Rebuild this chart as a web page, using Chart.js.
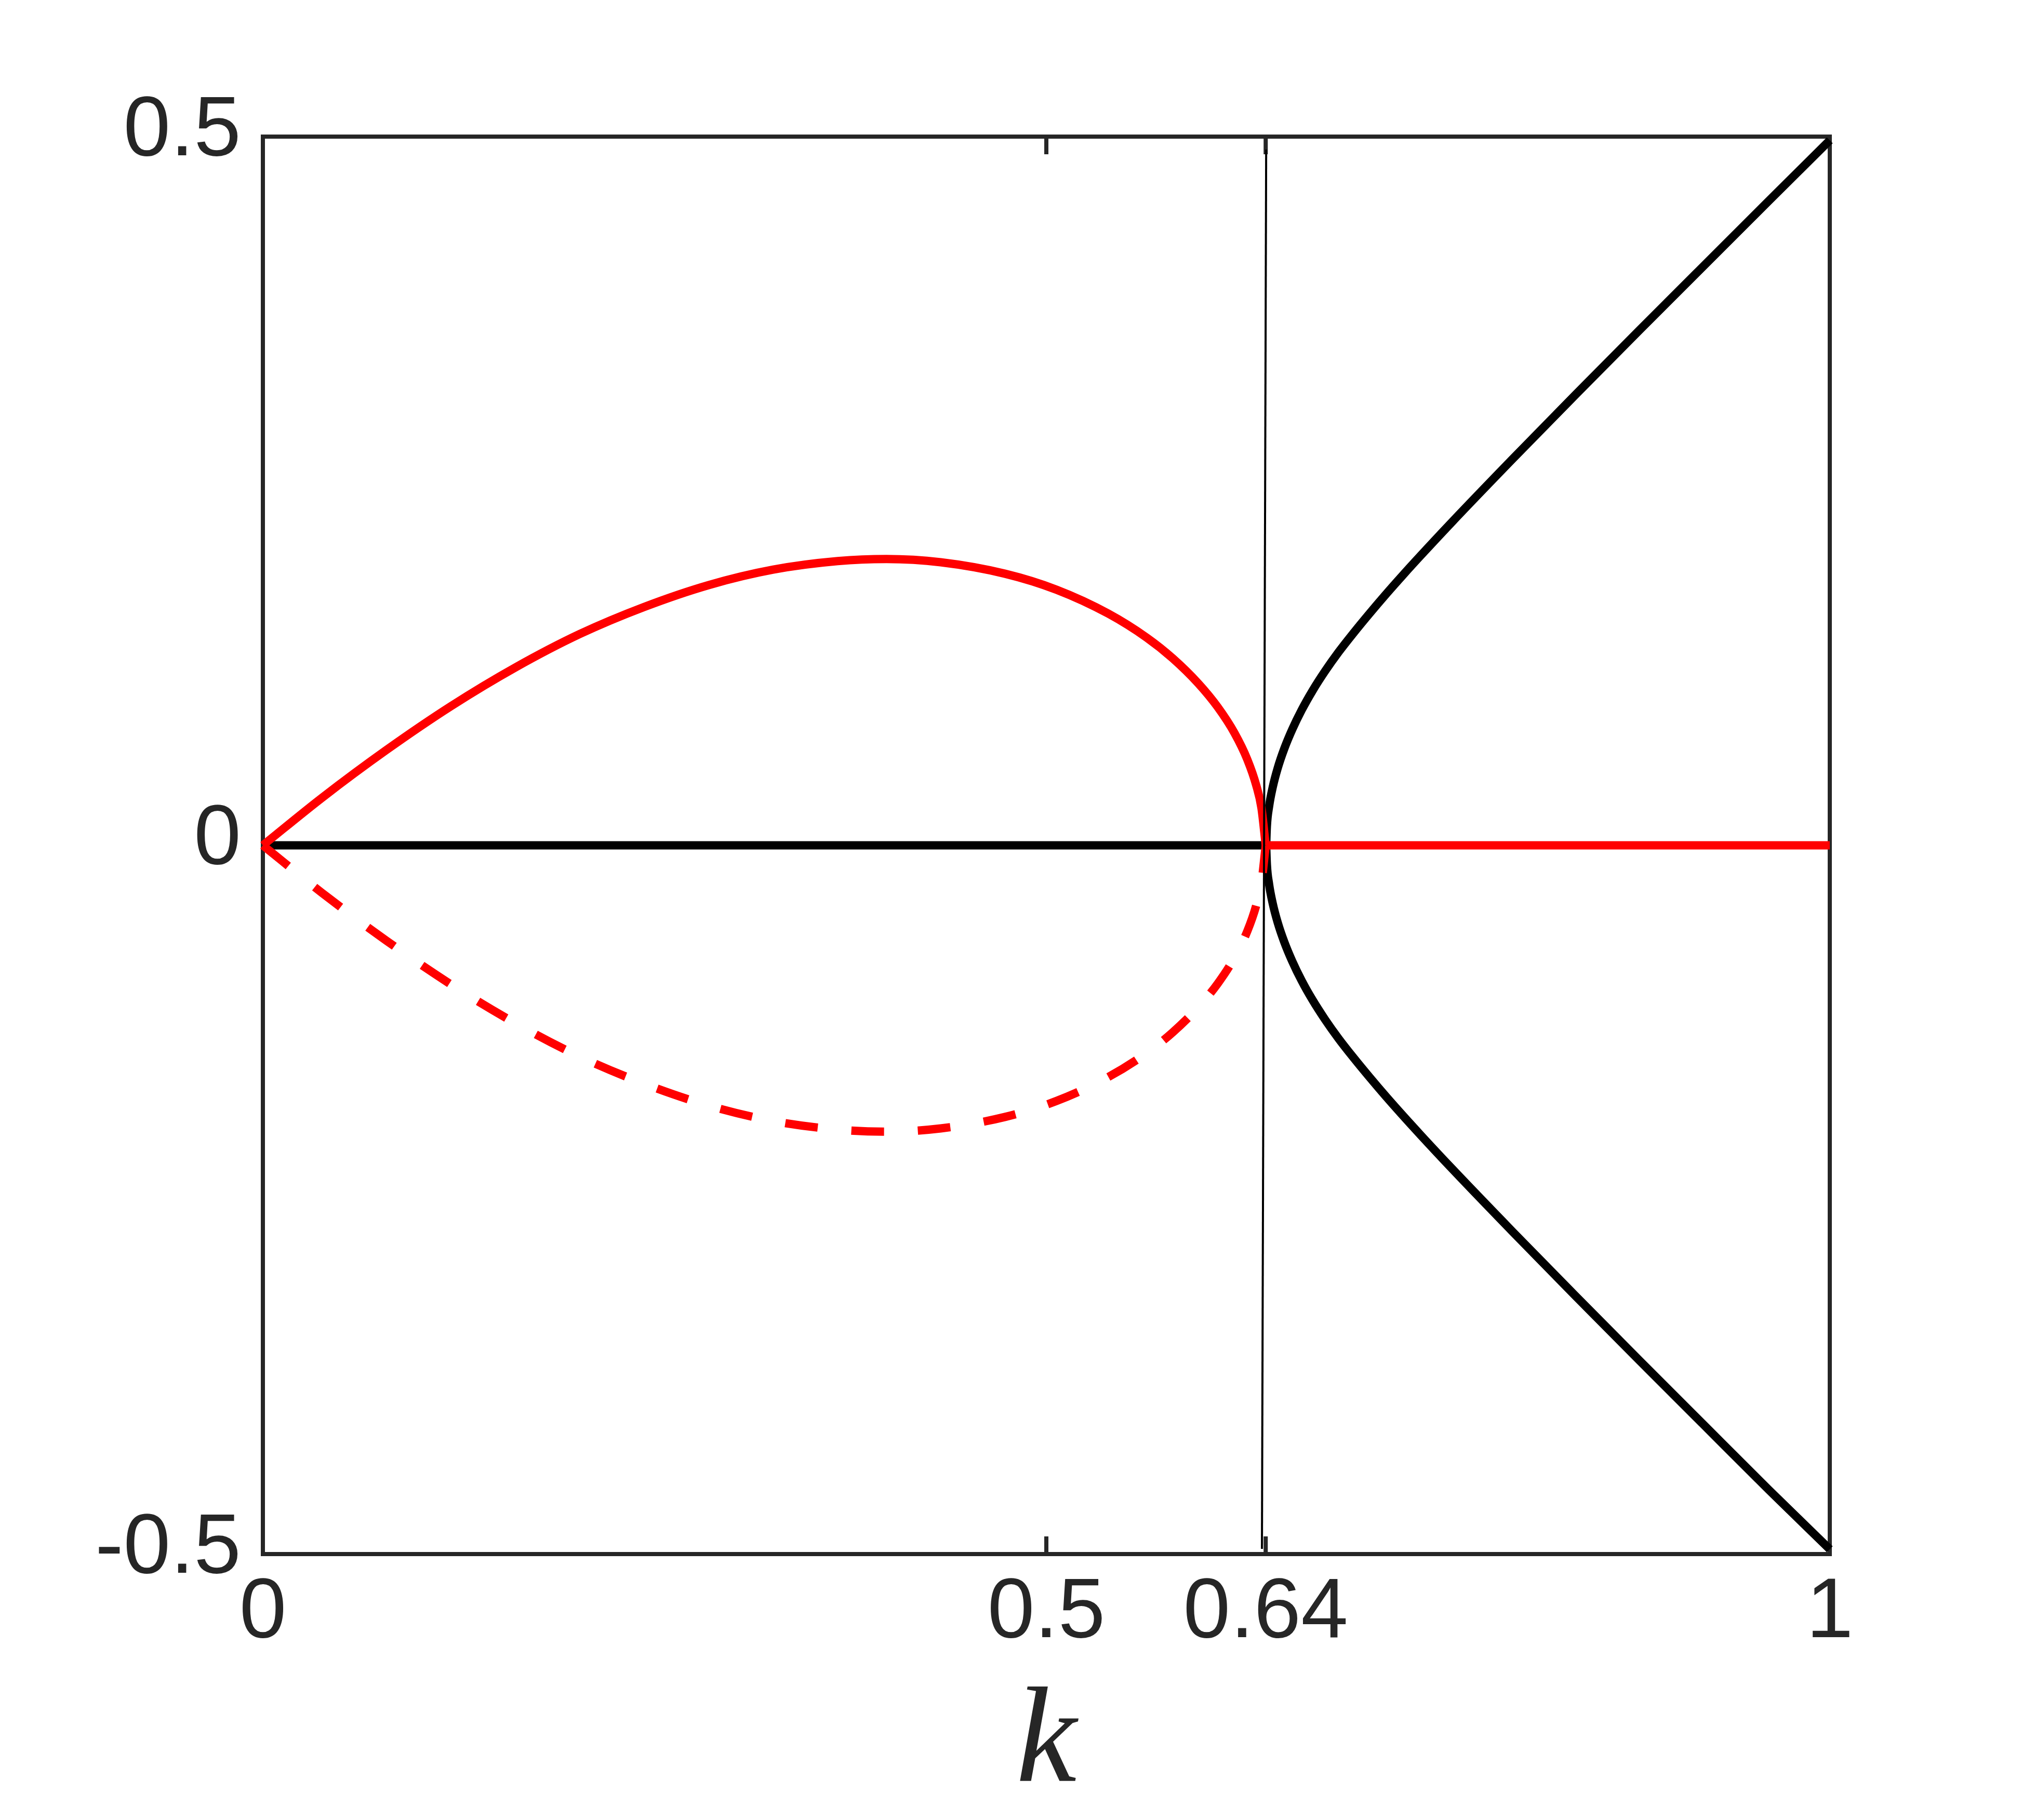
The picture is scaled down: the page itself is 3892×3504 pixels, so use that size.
<!DOCTYPE html>
<html>
<head>
<meta charset="utf-8">
<script src="https://cdn.jsdelivr.net/npm/chart.js@4.4.1/dist/chart.umd.min.js"></script>
<style>
  html, body { margin: 0; padding: 0; background: #ffffff; }
  canvas { display: block; }
</style>
</head>
<body>
<canvas id="bifChart" width="3892" height="3504"></canvas>
<script>
// Tick positions
const xTicks = [0, 0.5, 0.64, 1];
const yTicks = [-0.5, 0, 0.5];

// Trivial branch y = 0 (black on the left, red on the right)
const kTrivialLeft = [0, 0.6403];
const yTrivialLeft = [0, 0];
const kTrivialRight = [0.6403, 1];
const yTrivialRight = [0, 0];

// Red arc (solid upper half, dashed lower half)
const kArc = [0, 0.0378, 0.0789, 0.1201, 0.1612, 0.2023, 0.2434, 0.2845, 0.3257, 0.3668, 0.398,
  0.4326, 0.4737, 0.5066, 0.5395, 0.5641, 0.5806, 0.597, 0.6094, 0.6201, 0.6283, 0.634, 0.6373, 0.64];
const yArcUpper = [0, 0.0336, 0.0673, 0.0982, 0.1255, 0.1491, 0.1682, 0.1836, 0.1945, 0.2005, 0.202,
  0.1997, 0.1916, 0.1803, 0.1635, 0.1465, 0.132, 0.1142, 0.0975, 0.0792, 0.0605, 0.0422, 0.0263, 0];
const yArcLower = [0, -0.0336, -0.0673, -0.0982, -0.1255, -0.1491, -0.1682, -0.1836, -0.1945, -0.2005, -0.202,
  -0.1997, -0.1916, -0.1803, -0.1635, -0.1465, -0.132, -0.1142, -0.0975, -0.0792, -0.0605, -0.0422, -0.0263, 0];

// Black branches for k > 0.64
const kBranch = [0.6403, 0.64076, 0.64215, 0.64446, 0.6477, 0.65186, 0.65695, 0.66297, 0.6699, 0.67777, 0.68656,
  0.69618, 0.70629, 0.71685, 0.72776, 0.73898, 0.75823, 0.7977, 0.83799, 0.87871, 0.91982, 0.96094, 1.0];
const yBranchUpper = [0, 0.0136, 0.0273, 0.0409, 0.0546, 0.0682, 0.0818, 0.0955, 0.1091, 0.1227, 0.1364,
  0.15, 0.1636, 0.1773, 0.1909, 0.2045, 0.2273, 0.2727, 0.3182, 0.3636, 0.4091, 0.4545, 0.4974];
const yBranchLower = [0, -0.0136, -0.0273, -0.0409, -0.0546, -0.0682, -0.0818, -0.0955, -0.1091, -0.1227, -0.1364,
  -0.15, -0.1636, -0.1773, -0.1909, -0.2045, -0.2273, -0.2727, -0.3182, -0.3636, -0.4091, -0.4545, -0.4966];

// Thin marker line at k ~ 0.64
const kMarker = [0.6403, 0.6376];
const yMarker = [0.4908, -0.4963];

const axisColor = '#262626';

function pts(xs, ys) {
    return xs.map((x, i) => ({ x: x, y: ys[i] }));
}

function lineSet(data, color, width, dash, smooth) {
    return {
        data: data,
        showLine: true,
        borderColor: color,
        borderWidth: width,
        borderDash: dash || [],
        borderCapStyle: 'butt',
        borderJoinStyle: 'round',
        pointRadius: 0,
        pointHoverRadius: 0,
        cubicInterpolationMode: smooth ? 'monotone' : 'default',
        tension: 0,
        clip: false
    };
}

// Box round the plot and inward tick marks
const boxPlugin = {
    id: 'box',
    beforeDatasetsDraw(chart) {
        const { ctx, chartArea: a, scales } = chart;
        const len = 34;
        ctx.save();
        ctx.strokeStyle = axisColor;
        ctx.lineWidth = 8;
        ctx.lineCap = 'butt';
        ctx.strokeRect(a.left, a.top, a.right - a.left, a.bottom - a.top);
        ctx.beginPath();
        xTicks.forEach(v => {
            const px = scales.x.getPixelForValue(v);
            ctx.moveTo(px, a.bottom);
            ctx.lineTo(px, a.bottom - len);
            ctx.moveTo(px, a.top);
            ctx.lineTo(px, a.top + len);
        });
        yTicks.forEach(v => {
            const py = scales.y.getPixelForValue(v);
            ctx.moveTo(a.left, py);
            ctx.lineTo(a.left + len, py);
            ctx.moveTo(a.right, py);
            ctx.lineTo(a.right - len, py);
        });
        ctx.stroke();
        ctx.restore();
    }
};

const ctx = document.getElementById('bifChart').getContext('2d');
const bifChart = new Chart(ctx, {
    type: 'scatter',
    data: {
        datasets: [
            lineSet(pts(kMarker, yMarker), '#000000', 4),
            lineSet(pts(kArc, yArcUpper), '#ff0000', 16, null, true),
            lineSet(pts(kArc, yArcLower), '#ff0000', 16, [63, 65], true),
            lineSet(pts(kTrivialRight, yTrivialRight), '#ff0000', 16),
            lineSet(pts(kBranch, yBranchUpper), '#000000', 16, null, true),
            lineSet(pts(kBranch, yBranchLower), '#000000', 16, null, true),
            lineSet(pts(kTrivialLeft, yTrivialLeft), '#000000', 16)
        ]
    },
    options: {
        responsive: false,
        animation: false,
        devicePixelRatio: 1,
        layout: { padding: { left: 0, top: 263, right: 370, bottom: 0 } },
        plugins: {
            legend: { display: false },
            tooltip: { enabled: false }
        },
        scales: {
            x: {
                type: 'linear',
                min: 0,
                max: 1,
                grid: { display: false, drawTicks: false },
                border: { display: false },
                afterBuildTicks: scale => { scale.ticks = xTicks.map(v => ({ value: v })); },
                afterFit: scale => { scale.height = 512; },
                ticks: {
                    autoSkip: false,
                    maxRotation: 0,
                    padding: 17,
                    color: axisColor,
                    font: { family: '"Liberation Sans", Arial, sans-serif', size: 163 },
                    callback: v => String(v)
                },
                title: {
                    display: true,
                    text: 'k',
                    color: axisColor,
                    padding: { top: 0, bottom: 0 },
                    font: { family: '"Liberation Serif", "Times New Roman", serif', style: 'italic', size: 262, lineHeight: 1.1 }
                }
            },
            y: {
                type: 'linear',
                min: -0.5,
                max: 0.5,
                grid: { display: false, drawTicks: false },
                border: { display: false },
                afterBuildTicks: scale => { scale.ticks = yTicks.map(v => ({ value: v })); },
                afterFit: scale => { scale.width = 506; },
                ticks: {
                    padding: 42,
                    labelOffset: -9,
                    color: axisColor,
                    font: { family: '"Liberation Sans", Arial, sans-serif', size: 163 },
                    callback: v => String(v)
                }
            }
        }
    },
    plugins: [boxPlugin]
});
</script>
</body>
</html>
